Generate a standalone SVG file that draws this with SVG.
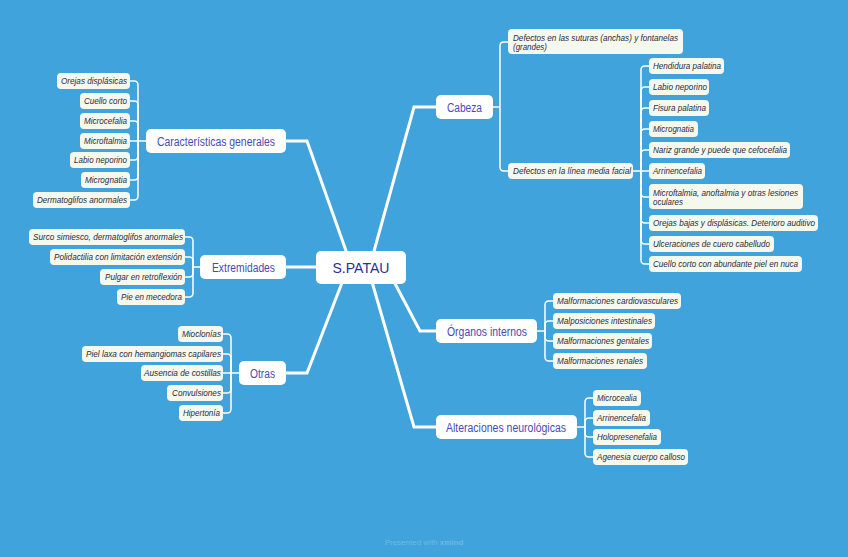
<svg xmlns="http://www.w3.org/2000/svg" width="848" height="557" viewBox="0 0 848 557">
<style>
.bg{fill:#41a3db}
.leaf rect{fill:#f5f8ec}
.leaf text{font-family:"Liberation Sans",Arial,sans-serif;font-style:italic;font-size:9.5px;fill:#2a2a42}
.main rect{fill:#ffffff}
.main text{font-family:"Liberation Sans",Arial,sans-serif;font-size:12.5px;fill:#4a4ab2;text-anchor:middle}
.center rect{fill:#ffffff}
.center text{font-family:"Liberation Sans",Arial,sans-serif;font-size:15px;fill:#2b2f96;text-anchor:middle}
.thick{stroke:#ffffff;stroke-width:3;fill:none;stroke-linejoin:miter}
.thin{stroke:#ffffff;stroke-width:1.5;fill:none}
.wm{font-family:"Liberation Sans",Arial,sans-serif;font-size:8px;fill:#6fb9e6;text-anchor:middle}
</style>
<rect class="bg" x="0" y="0" width="848" height="557"/>

<g id="connectors">
  <path class="thick" d="M286,141H307L350,262"/>
  <path class="thick" d="M436,107H414L371,262"/>
  <path class="thick" d="M286,267H318"/>
  <path class="thick" d="M286,373H307L345,275"/>
  <path class="thick" d="M436,331H420L391,276"/>
  <path class="thick" d="M436,427H414L370,275"/>
  <path class="thin" d="M146,141H138"/>
  <path class="thin" d="M138,141V85Q138,81 134,81H130"/>
  <path class="thin" d="M138,141V105Q138,101 134,101H130"/>
  <path class="thin" d="M138,141V125Q138,121 134,121H130"/>
  <path class="thin" d="M138,141H130"/>
  <path class="thin" d="M138,141V156Q138,160 134,160H130"/>
  <path class="thin" d="M138,141V176Q138,180 134,180H130"/>
  <path class="thin" d="M138,141V196Q138,200 134,200H130"/>
  <path class="thin" d="M200,267H193"/>
  <path class="thin" d="M193,267V241Q193,237 189,237H185"/>
  <path class="thin" d="M193,267V261Q193,257 189,257H185"/>
  <path class="thin" d="M193,267V273Q193,277 189,277H185"/>
  <path class="thin" d="M193,267V293Q193,297 189,297H185"/>
  <path class="thin" d="M239,373H231"/>
  <path class="thin" d="M231,373V338Q231,334 227,334H223"/>
  <path class="thin" d="M231,373V358Q231,354 227,354H223"/>
  <path class="thin" d="M231,373H223"/>
  <path class="thin" d="M231,373V389Q231,393 227,393H223"/>
  <path class="thin" d="M231,373V409Q231,413 227,413H223"/>
  <path class="thin" d="M493,107H500"/>
  <path class="thin" d="M500,107V46Q500,42 504,42H508"/>
  <path class="thin" d="M500,107V167Q500,171 504,171H508"/>
  <path class="thin" d="M633,171H641"/>
  <path class="thin" d="M641,171V70Q641,66 645,66H649"/>
  <path class="thin" d="M641,171V91Q641,87 645,87H649"/>
  <path class="thin" d="M641,171V112Q641,108 645,108H649"/>
  <path class="thin" d="M641,171V133Q641,129 645,129H649"/>
  <path class="thin" d="M641,171V154Q641,150 645,150H649"/>
  <path class="thin" d="M641,171H649"/>
  <path class="thin" d="M641,171V193Q641,197 645,197H649"/>
  <path class="thin" d="M641,171V219Q641,223 645,223H649"/>
  <path class="thin" d="M641,171V240Q641,244 645,244H649"/>
  <path class="thin" d="M641,171V260Q641,264 645,264H649"/>
  <path class="thin" d="M537,331H545"/>
  <path class="thin" d="M545,331V305Q545,301 549,301H553"/>
  <path class="thin" d="M545,331V325Q545,321 549,321H553"/>
  <path class="thin" d="M545,331V337Q545,341 549,341H553"/>
  <path class="thin" d="M545,331V357Q545,361 549,361H553"/>
  <path class="thin" d="M577,427H585"/>
  <path class="thin" d="M585,427V402Q585,398 589,398H593"/>
  <path class="thin" d="M585,427V422Q585,418 589,418H593"/>
  <path class="thin" d="M585,427V433Q585,437 589,437H593"/>
  <path class="thin" d="M585,427V453Q585,457 589,457H593"/>
</g>

<g id="n-center" class="center"><rect x="316" y="251" width="90" height="33" rx="5"/><text x="361" y="272.5" textLength="57" lengthAdjust="spacingAndGlyphs">S.PATAU</text></g>

<g id="n-caracteristicas" class="main"><rect x="146" y="129" width="140" height="24" rx="5"/><text x="216" y="145.5" textLength="118" lengthAdjust="spacingAndGlyphs">Características generales</text></g>
<g id="n-extremidades" class="main"><rect x="200" y="255" width="86" height="24" rx="5"/><text x="243.5" y="271.5" textLength="63" lengthAdjust="spacingAndGlyphs">Extremidades</text></g>
<g id="n-otras" class="main"><rect x="239" y="361" width="47" height="24" rx="5"/><text x="262.5" y="377.5" textLength="25" lengthAdjust="spacingAndGlyphs">Otras</text></g>
<g id="n-cabeza" class="main"><rect x="436" y="95" width="57" height="24" rx="5"/><text x="464.5" y="111.5" textLength="35" lengthAdjust="spacingAndGlyphs">Cabeza</text></g>
<g id="n-organos" class="main"><rect x="436" y="319" width="101" height="24" rx="5"/><text x="487" y="335.5" textLength="80" lengthAdjust="spacingAndGlyphs">Órganos internos</text></g>
<g id="n-alteraciones" class="main"><rect x="436" y="415" width="141" height="24" rx="5"/><text x="506" y="431.5" textLength="120" lengthAdjust="spacingAndGlyphs">Alteraciones neurológicas</text></g>

<g id="l-c1" class="leaf"><rect x="57" y="73" width="73" height="16" rx="4"/><text x="61" y="84.3" textLength="66" lengthAdjust="spacingAndGlyphs">Orejas displásicas</text></g>
<g id="l-c2" class="leaf"><rect x="80" y="93" width="50" height="16" rx="4"/><text x="84" y="104.3" textLength="43" lengthAdjust="spacingAndGlyphs">Cuello corto</text></g>
<g id="l-c3" class="leaf"><rect x="80" y="113" width="50" height="16" rx="4"/><text x="84" y="124.3" textLength="43" lengthAdjust="spacingAndGlyphs">Microcefalia</text></g>
<g id="l-c4" class="leaf"><rect x="80" y="133" width="50" height="16" rx="4"/><text x="84" y="144.3" textLength="43" lengthAdjust="spacingAndGlyphs">Microftalmia</text></g>
<g id="l-c5" class="leaf"><rect x="70" y="152" width="60" height="16" rx="4"/><text x="74" y="163.3" textLength="53" lengthAdjust="spacingAndGlyphs">Labio neporino</text></g>
<g id="l-c6" class="leaf"><rect x="81" y="172" width="49" height="16" rx="4"/><text x="85" y="183.3" textLength="42" lengthAdjust="spacingAndGlyphs">Micrognatia</text></g>
<g id="l-c7" class="leaf"><rect x="33" y="192" width="97" height="16" rx="4"/><text x="37" y="203.3" textLength="90" lengthAdjust="spacingAndGlyphs">Dermatoglifos anormales</text></g>

<g id="l-e1" class="leaf"><rect x="29" y="229" width="156" height="16" rx="4"/><text x="33" y="240.3" textLength="150" lengthAdjust="spacingAndGlyphs">Surco simiesco, dermatoglifos anormales</text></g>
<g id="l-e2" class="leaf"><rect x="50" y="249" width="135" height="16" rx="4"/><text x="54" y="260.3" textLength="128" lengthAdjust="spacingAndGlyphs">Polidactilia con limitación extensión</text></g>
<g id="l-e3" class="leaf"><rect x="100" y="269" width="85" height="16" rx="4"/><text x="105" y="280.3" textLength="77" lengthAdjust="spacingAndGlyphs">Pulgar en retroflexión</text></g>
<g id="l-e4" class="leaf"><rect x="117" y="289" width="68" height="16" rx="4"/><text x="121" y="300.3" textLength="61" lengthAdjust="spacingAndGlyphs">Pie en mecedora</text></g>

<g id="l-o1" class="leaf"><rect x="178" y="326" width="45" height="16" rx="4"/><text x="182" y="337.3" textLength="39" lengthAdjust="spacingAndGlyphs">Mioclonías</text></g>
<g id="l-o2" class="leaf"><rect x="82" y="346" width="141" height="16" rx="4"/><text x="86" y="357.3" textLength="135" lengthAdjust="spacingAndGlyphs">Piel laxa con hemangiomas capilares</text></g>
<g id="l-o3" class="leaf"><rect x="141" y="365" width="82" height="16" rx="4"/><text x="144" y="376.3" textLength="77" lengthAdjust="spacingAndGlyphs">Ausencia de costillas</text></g>
<g id="l-o4" class="leaf"><rect x="167" y="385" width="56" height="16" rx="4"/><text x="172" y="396.3" textLength="49" lengthAdjust="spacingAndGlyphs">Convulsiones</text></g>
<g id="l-o5" class="leaf"><rect x="179" y="405" width="44" height="16" rx="4"/><text x="183" y="416.3" textLength="37" lengthAdjust="spacingAndGlyphs">Hipertonía</text></g>

<g id="l-h1" class="leaf"><rect x="508" y="29" width="175" height="25" rx="4"/><text x="513" y="40.5" textLength="165" lengthAdjust="spacingAndGlyphs">Defectos en las suturas (anchas) y fontanelas</text><text x="513" y="50" textLength="34" lengthAdjust="spacingAndGlyphs">(grandes)</text></g>
<g id="l-h2" class="leaf"><rect x="508" y="163" width="125" height="16" rx="4"/><text x="513" y="174.3" textLength="118" lengthAdjust="spacingAndGlyphs">Defectos en la línea media facial</text></g>

<g id="l-f1" class="leaf"><rect x="649" y="58" width="75" height="16" rx="4"/><text x="653" y="69.3" textLength="68" lengthAdjust="spacingAndGlyphs">Hendidura palatina</text></g>
<g id="l-f2" class="leaf"><rect x="649" y="79" width="60" height="16" rx="4"/><text x="653" y="90.3" textLength="54" lengthAdjust="spacingAndGlyphs">Labio neporino</text></g>
<g id="l-f3" class="leaf"><rect x="649" y="100" width="60" height="16" rx="4"/><text x="653" y="111.3" textLength="53" lengthAdjust="spacingAndGlyphs">Fisura palatina</text></g>
<g id="l-f4" class="leaf"><rect x="649" y="121" width="49" height="16" rx="4"/><text x="653" y="132.3" textLength="41" lengthAdjust="spacingAndGlyphs">Micrognatia</text></g>
<g id="l-f5" class="leaf"><rect x="649" y="142" width="141" height="16" rx="4"/><text x="653" y="153.3" textLength="134" lengthAdjust="spacingAndGlyphs">Nariz grande y puede que cefocefalia</text></g>
<g id="l-f6" class="leaf"><rect x="649" y="163" width="56" height="16" rx="4"/><text x="653" y="174.3" textLength="49" lengthAdjust="spacingAndGlyphs">Arrinencefalia</text></g>
<g id="l-f7" class="leaf"><rect x="649" y="184" width="154" height="25" rx="4"/><text x="653" y="195.5" textLength="145" lengthAdjust="spacingAndGlyphs">Microftalmia, anoftalmia y otras lesiones</text><text x="653" y="205" textLength="30" lengthAdjust="spacingAndGlyphs">oculares</text></g>
<g id="l-f8" class="leaf"><rect x="649" y="215" width="169" height="16" rx="4"/><text x="653" y="226.3" textLength="162" lengthAdjust="spacingAndGlyphs">Orejas bajas y displásicas. Deterioro auditivo</text></g>
<g id="l-f9" class="leaf"><rect x="649" y="236" width="125" height="16" rx="4"/><text x="653" y="247.3" textLength="117" lengthAdjust="spacingAndGlyphs">Ulceraciones de cuero cabelludo</text></g>
<g id="l-f10" class="leaf"><rect x="649" y="256" width="153" height="16" rx="4"/><text x="653" y="267.3" textLength="145" lengthAdjust="spacingAndGlyphs">Cuello corto con abundante piel en nuca</text></g>

<g id="l-g1" class="leaf"><rect x="553" y="293" width="128" height="16" rx="4"/><text x="557" y="304.3" textLength="121" lengthAdjust="spacingAndGlyphs">Malformaciones cardiovasculares</text></g>
<g id="l-g2" class="leaf"><rect x="553" y="313" width="102" height="16" rx="4"/><text x="557" y="324.3" textLength="95" lengthAdjust="spacingAndGlyphs">Malposiciones intestinales</text></g>
<g id="l-g3" class="leaf"><rect x="553" y="333" width="99" height="16" rx="4"/><text x="557" y="344.3" textLength="92" lengthAdjust="spacingAndGlyphs">Malformaciones genitales</text></g>
<g id="l-g4" class="leaf"><rect x="553" y="353" width="94" height="16" rx="4"/><text x="557" y="364.3" textLength="86" lengthAdjust="spacingAndGlyphs">Malformaciones renales</text></g>

<g id="l-a1" class="leaf"><rect x="593" y="390" width="48" height="16" rx="4"/><text x="597" y="401.3" textLength="40" lengthAdjust="spacingAndGlyphs">Microcealia</text></g>
<g id="l-a2" class="leaf"><rect x="593" y="410" width="57" height="16" rx="4"/><text x="597" y="421.3" textLength="49" lengthAdjust="spacingAndGlyphs">Arrinencefalia</text></g>
<g id="l-a3" class="leaf"><rect x="593" y="429" width="68" height="16" rx="4"/><text x="597" y="440.3" textLength="60" lengthAdjust="spacingAndGlyphs">Holopresenefalia</text></g>
<g id="l-a4" class="leaf"><rect x="593" y="449" width="95" height="16" rx="4"/><text x="597" y="460.3" textLength="88" lengthAdjust="spacingAndGlyphs">Agenesia cuerpo calloso</text></g>

<text class="wm" x="424" y="545">Presented with <tspan font-weight="bold">xmind</tspan></text>
</svg>
